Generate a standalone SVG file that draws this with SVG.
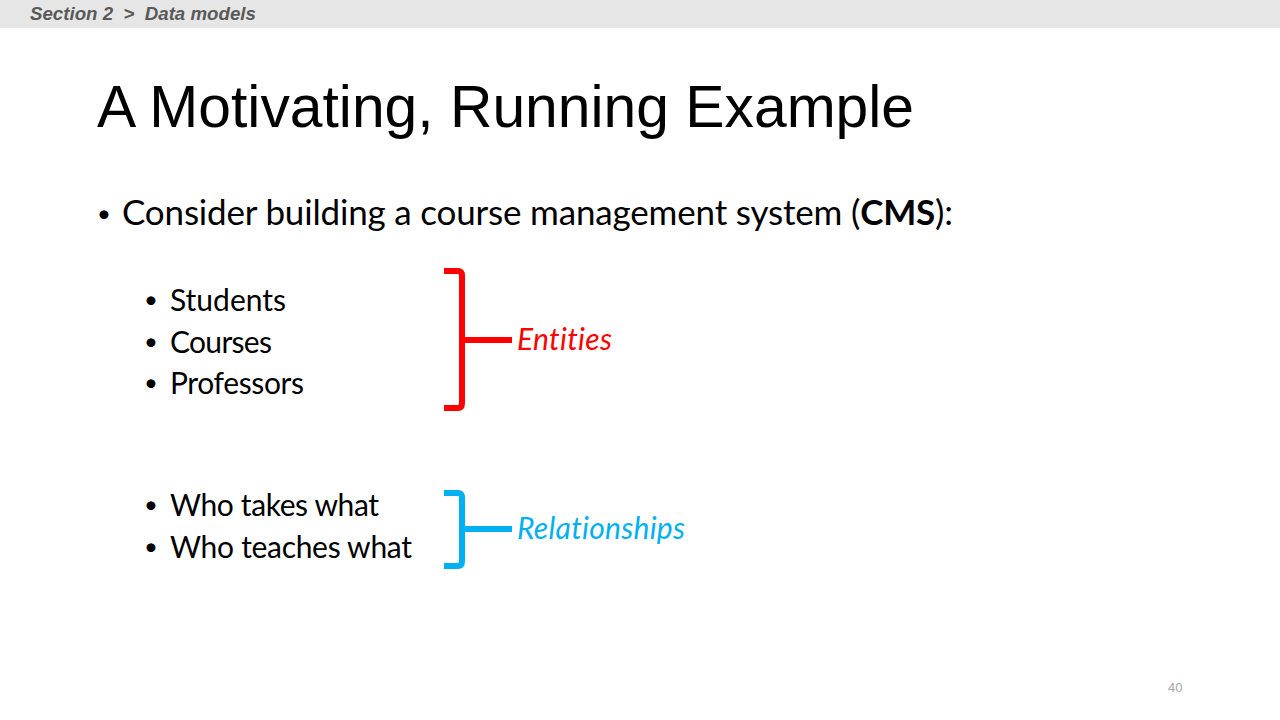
<svg xmlns="http://www.w3.org/2000/svg" width="1280" height="720" viewBox="0 0 1280 720">
<style>
text{font-variant-ligatures:none;font-feature-settings:"liga" 0}
.hdr{font-family:"Liberation Sans",Arial,sans-serif;font-size:18.7px;font-weight:bold;font-style:italic;fill:#595959}
.title{font-family:"Liberation Sans",Arial,sans-serif;font-size:58.8px;fill:#000}
.body{font-family:Lato,"Open Sans",sans-serif;fill:#000}
.l1{font-size:35px}
.l2{font-size:30px}
.bul{font-family:Lato,"Open Sans",sans-serif;font-size:24px;text-anchor:middle;fill:#000}
.lbl{font-family:Lato,"Open Sans",sans-serif;font-style:italic;font-size:30px}
.brace{fill:none;stroke-width:6;stroke-linecap:butt;stroke-linejoin:round}
.pg{font-family:"Liberation Sans",Arial,sans-serif;font-size:13px;fill:#a6a6a6}
</style>
<rect width="1280" height="720" fill="#fff"/>
<g id="header">
<rect x="0" y="0" width="1280" height="28" fill="#e6e6e6"/>
<text class="hdr" x="30" y="20" xml:space="preserve">Section 2  &gt;  Data models</text>
</g>
<g id="title">
<text class="title" x="97" y="127">A Motivating, Running Example</text>
</g>
<g id="main-bullet" class="body">
<text class="bul" x="104" y="222">•</text>
<text class="l1" x="122" y="225" textLength="831">Consider building a course management system (<tspan font-weight="bold">CMS</tspan>):</text>
</g>
<g id="entities-list" class="body">
<text class="bul" x="151" y="308">•</text>
<text class="l2" x="170" y="311" textLength="116">Students</text>
<text class="bul" x="151" y="350">•</text>
<text class="l2" x="170" y="353" textLength="102">Courses</text>
<text class="bul" x="151" y="391">•</text>
<text class="l2" x="170" y="394" textLength="134">Professors</text>
</g>
<g id="relationships-list" class="body">
<text class="bul" x="151" y="513">•</text>
<text class="l2" x="170" y="516" textLength="209">Who takes what</text>
<text class="bul" x="151" y="555">•</text>
<text class="l2" x="170" y="558" textLength="242">Who teaches what</text>
</g>
<g id="connectors">
<path class="brace" stroke="#ff0000" d="M444,271 H458 Q462,271 462,276 V403 Q462,408 458,408 H444 M462,340 H512"/>
<path class="brace" stroke="#00b0f0" d="M444,493 H458 Q462,493 462,498 V561 Q462,566 458,566 H444 M462,529 H512"/>
</g>
<g id="entities-label">
<text class="lbl" x="517" y="350" fill="#ff0000" textLength="95">Entities</text>
</g>
<g id="relationships-label">
<text class="lbl" x="517" y="539" fill="#00b0f0" textLength="168">Relationships</text>
</g>
<g id="page">
<text class="pg" x="1168" y="692">40</text>
</g>
</svg>
